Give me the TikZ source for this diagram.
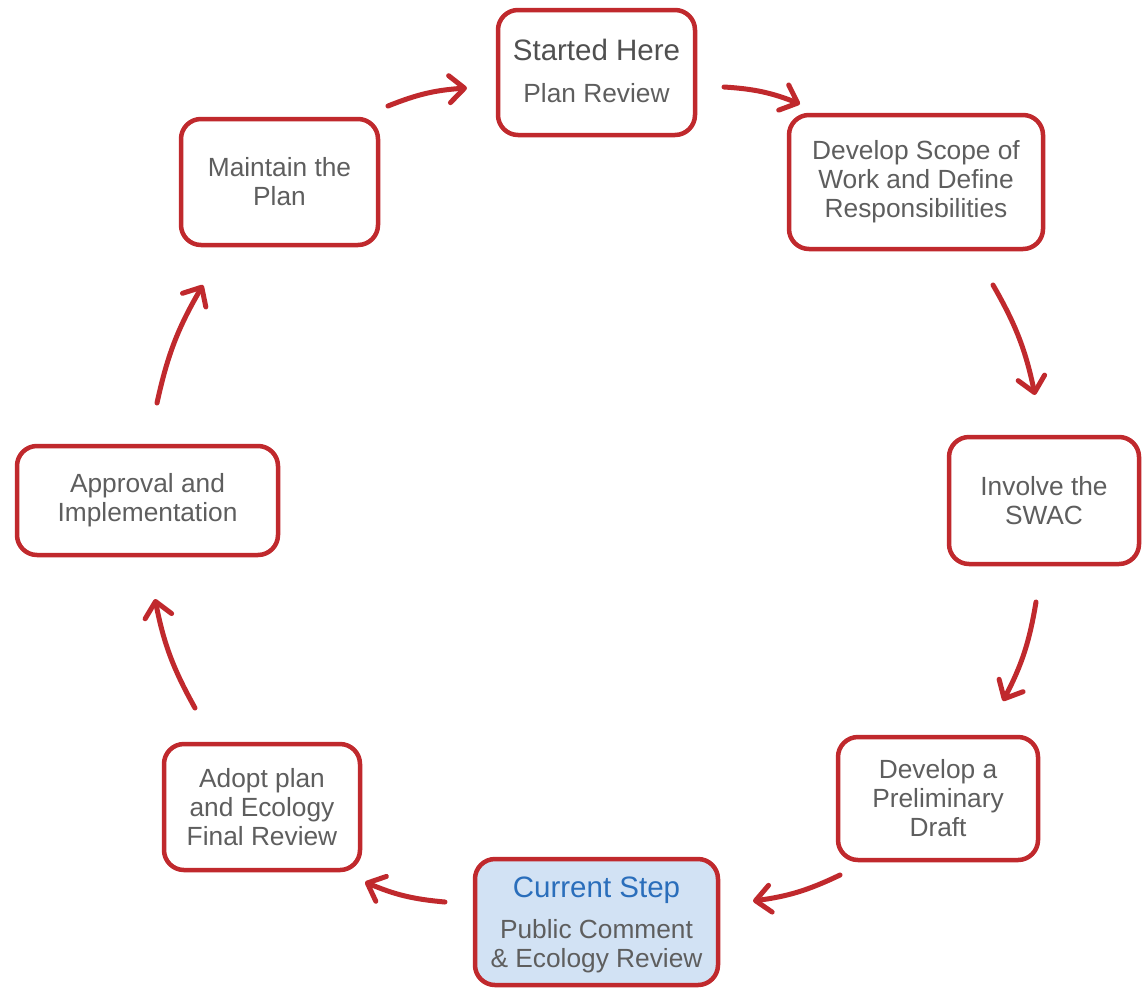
\documentclass[tikz,border=0pt]{standalone}
\usepackage{fontspec}
\setmainfont{Liberation Sans}
\usetikzlibrary{arrows.meta}
\definecolor{boxred}{HTML}{C0292D}
\definecolor{txtgray}{HTML}{5E5E5E}
\definecolor{titlegray}{HTML}{505050}
\definecolor{curblue}{HTML}{2A6EBB}
\definecolor{curfill}{HTML}{D2E2F4}
\begin{document}
\begin{tikzpicture}[x=1pt,y=-1pt,
  stepbox/.style={draw=boxred, line width=4.5pt, rounded corners=20pt, fill=white, inner sep=0pt},
  body/.style={text=txtgray, font=\fontsize{26.3}{29}\selectfont, align=center, inner sep=0pt},
  title/.style={font=\fontsize{29.5}{32}\selectfont, inner sep=0pt, anchor=base},
  flow/.style={draw=boxred, line width=5pt, line cap=round,
    -{Straight Barb[length=15pt,width=27pt,round]}}]
\useasboundingbox (0,0) rectangle (1142,988);

% boxes
\node[stepbox, minimum width=197pt, minimum height=125pt] (start) at (596.5,72.5) {};
\node[stepbox, minimum width=254pt, minimum height=134pt] (scope) at (916,182) {};
\node[stepbox, minimum width=190pt, minimum height=127pt] (swac) at (1044,500.5) {};
\node[stepbox, minimum width=200pt, minimum height=123pt] (prelim) at (938,798.5) {};
\node[stepbox, fill=curfill, minimum width=243pt, minimum height=126pt] (current) at (596.5,922) {};
\node[stepbox, minimum width=196pt, minimum height=126pt] (adopt) at (262,807) {};
\node[stepbox, minimum width=261pt, minimum height=109pt] (approval) at (147.5,500.5) {};
\node[stepbox, minimum width=197pt, minimum height=126pt] (maintain) at (279.5,182) {};

% texts
\node[title, text=titlegray] (startT) at (596.5,60) {Started Here};
\node[body, anchor=base] (startB) at (596.5,102) {Plan Review};
\node[body] (scopeT) at (scope.center) {Develop Scope of\\Work and Define\\Responsibilities};
\node[body] (swacT) at (swac.center) {Involve the\\SWAC};
\node[body] (prelimT) at (prelim.center) {Develop a\\Preliminary\\Draft};
\node[title, text=curblue] (curT) at (596.5,897) {Current Step};
\node[body, anchor=base] (curB1) at (596.5,938) {Public Comment};
\node[body, anchor=base] (curB2) at (596.5,967) {\&~Ecology Review};
\node[body] (adoptT) at (adopt.center) {Adopt plan\\and Ecology\\Final Review};
\node[body] (approvalT) at (approval.center) {Approval and\\Implementation};
\node[body] (maintainT) at (maintain.center) {Maintain the\\Plan};

% arrow end points
\coordinate (a1s) at (388,106); \coordinate (a1e) at (467,88);
\coordinate (a2s) at (724,87);  \coordinate (a2e) at (800,104);
\coordinate (a3s) at (993,285); \coordinate (a3e) at (1035,395);
\coordinate (a4s) at (1036,602); \coordinate (a4e) at (1003,701);
\coordinate (a5s) at (840,875); \coordinate (a5e) at (753,901);
\coordinate (a6s) at (445,902); \coordinate (a6e) at (365,882);
\coordinate (a7s) at (195,708); \coordinate (a7e) at (155,599);
\coordinate (a8s) at (157,403); \coordinate (a8e) at (203,285);

\draw[flow] (a1s) to[bend left=9] (a1e);
\draw[flow] (a2s) to[bend left=9] (a2e);
\draw[flow] (a3s) to[bend left=9] (a3e);
\draw[flow] (a4s) to[bend left=9] (a4e);
\draw[flow] (a5s) to[bend left=9] (a5e);
\draw[flow] (a6s) to[bend left=9] (a6e);
\draw[flow] (a7s) to[bend left=9] (a7e);
\draw[flow] (a8s) to[bend left=9] (a8e);
\end{tikzpicture}
\end{document}
